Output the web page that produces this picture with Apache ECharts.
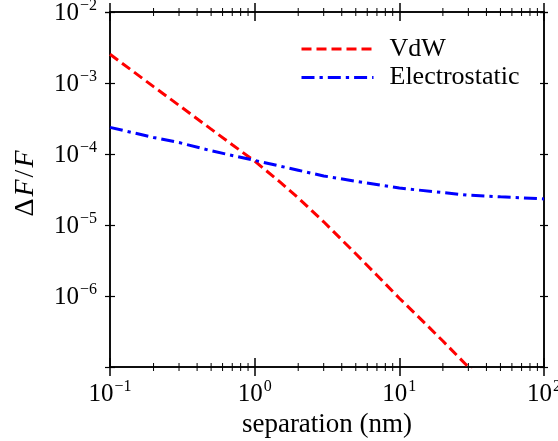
<!DOCTYPE html>
<html>
<head>
<meta charset="utf-8">
<script src="https://cdn.jsdelivr.net/npm/echarts@6/dist/echarts.min.js"></script>
<style>html,body{margin:0;padding:0;background:#fff}#c{width:558px;height:441px}</style>
</head>
<body>
<div id="c"></div>
<script>
// separation (nm)
const vdwX = [0.1, 0.2, 0.3, 0.5, 0.7, 1, 1.5, 2, 3, 5, 7, 10, 15, 20, 30, 40];
const vdwY = [2.54e-3, 8.9e-4, 4.84e-4, 2.24e-4, 1.35e-4, 7.94e-5, 4.02e-5, 2.41e-5, 1.11e-5, 3.93e-6, 1.96e-6, 9.3e-7, 4.15e-7, 2.32e-7, 1.0e-7, 5.6e-8];
const elecX = [0.1, 0.2, 0.3, 0.5, 1, 2, 3, 5, 10, 20, 30, 50, 100];
const elecY = [2.37e-4, 1.71e-4, 1.45e-4, 1.11e-4, 8.13e-5, 5.91e-5, 4.91e-5, 4.13e-5, 3.31e-5, 2.86e-5, 2.63e-5, 2.49e-5, 2.33e-5];
const xRange = [0.1, 100];
const yRange = [1e-7, 1e-2];
const hiddenYLabels = [1e-7];
const xMinorMultipliers = [2, 3, 4, 5, 6, 7, 8, 9];

const FONT = 'Liberation Serif';
const chart = echarts.init(document.getElementById('c'), null, {renderer: 'canvas'});

function pow10Label(v) {
  const e = Math.round(Math.log10(v));
  if (hiddenYLabels.some(h => Math.abs(v - h) / h < 1e-6)) return '';
  const s = e < 0 ? '\u2212' + Math.abs(e) : String(e);
  return '{b|10}{s|' + s + '}';
}
const rich = {
  b: {fontFamily: FONT, fontSize: 25, color: '#000', lineHeight: 28, verticalAlign: 'bottom'},
  s: {fontFamily: FONT, fontSize: 16, color: '#000', lineHeight: 28, verticalAlign: 'top', padding: [0, 0, 0, 1]}
};
const axisLine = {show: true, onZero: false, lineStyle: {color: '#000', width: 1.5}};

function xAx(pos, inside, labels, len) {
  return {
    type: 'log', logBase: 10, min: xRange[0], max: xRange[1], position: pos,
    axisLine: axisLine, splitLine: {show: false},
    axisTick: {show: true, inside: inside, length: len, lineStyle: {color: '#000', width: 1.5}},
    axisLabel: labels ? {show: true, margin: 12, formatter: pow10Label, rich: rich} : {show: false},
    name: labels ? 'separation (nm)' : '', nameLocation: 'middle', nameGap: 41,
    nameTextStyle: {fontFamily: FONT, fontSize: 27, color: '#000'}
  };
}
function yAx(pos, inside, labels, len) {
  return {
    type: 'log', logBase: 10, min: yRange[0], max: yRange[1], position: pos,
    axisLine: axisLine, splitLine: {show: false},
    axisTick: {show: true, inside: inside, length: len, lineStyle: {color: '#000', width: 1.2}},
    axisLabel: labels ? {show: true, margin: 13, formatter: pow10Label, rich: rich} : {show: false},
    name: labels ? '{n|\u0394}{i|F}{n|/}{i|F}' : '', nameLocation: 'middle', nameGap: 70, nameRotate: 90,
    nameTextStyle: {padding: [0, 0, 0, 14], rich: {
      n: {fontFamily: FONT, fontSize: 28, color: '#000'},
      i: {fontFamily: FONT, fontSize: 28, fontStyle: 'italic', color: '#000', padding: [0, 2, 0, 2]}
    }}
  };
}

chart.setOption({
  animation: false,
  backgroundColor: '#fff',
  grid: {left: 110, right: 14, top: 12, bottom: 74, containLabel: false, outerBoundsMode: 'none'},
  xAxis: [xAx('bottom', true, true, 9), xAx('bottom', false, false, 9), xAx('top', true, false, 9), xAx('top', false, false, 9)],
  yAxis: [yAx('left', true, true, 5), yAx('left', false, false, 5), yAx('right', true, false, 4), yAx('right', false, false, 4)],
  legend: {
    left: 295, top: 30, orient: 'vertical', itemWidth: 72, itemHeight: 28, itemGap: 0.4,
    itemStyle: {opacity: 0},
    lineStyle: {width: 3},
    textStyle: {fontFamily: FONT, fontSize: 26, color: '#000', lineHeight: 28, padding: [0, 0, 0, 11]},
    data: ['VdW', 'Electrostatic']
  },
  series: [
    {name: 'VdW', type: 'line', xAxisIndex: 0, yAxisIndex: 0, symbol: 'none', clip: true,
     data: vdwX.map((x, i) => [x, vdwY[i]]),
     lineStyle: {color: '#ff0000', width: 3, type: [10, 5]}, itemStyle: {color: '#ff0000'}},
    {name: 'Electrostatic', type: 'line', xAxisIndex: 0, yAxisIndex: 0, symbol: 'none', clip: true,
     data: elecX.map((x, i) => [x, elecY[i]]),
     lineStyle: {color: '#0000ff', width: 3, type: [13, 5, 3.3, 5]}, itemStyle: {color: '#0000ff'}}
  ]
});

// minor ticks on log x axes (bottom and top), positioned via the axis scale
const yBot = chart.convertToPixel({yAxisIndex: 0}, yRange[0]);
const yTop = chart.convertToPixel({yAxisIndex: 0}, yRange[1]);
const minor = [];
for (let d = Math.log10(xRange[0]); d < Math.log10(xRange[1]); d++) {
  xMinorMultipliers.forEach(m => {
    const px = chart.convertToPixel({xAxisIndex: 0}, m * Math.pow(10, d));
    minor.push({type: 'line', shape: {x1: px, y1: yBot - 4, x2: px, y2: yBot + 4}, style: {stroke: '#000', lineWidth: 1}, silent: true});
    minor.push({type: 'line', shape: {x1: px, y1: yTop - 4, x2: px, y2: yTop + 4}, style: {stroke: '#000', lineWidth: 1}, silent: true});
  });
}
chart.setOption({graphic: minor});
</script>
</body>
</html>
